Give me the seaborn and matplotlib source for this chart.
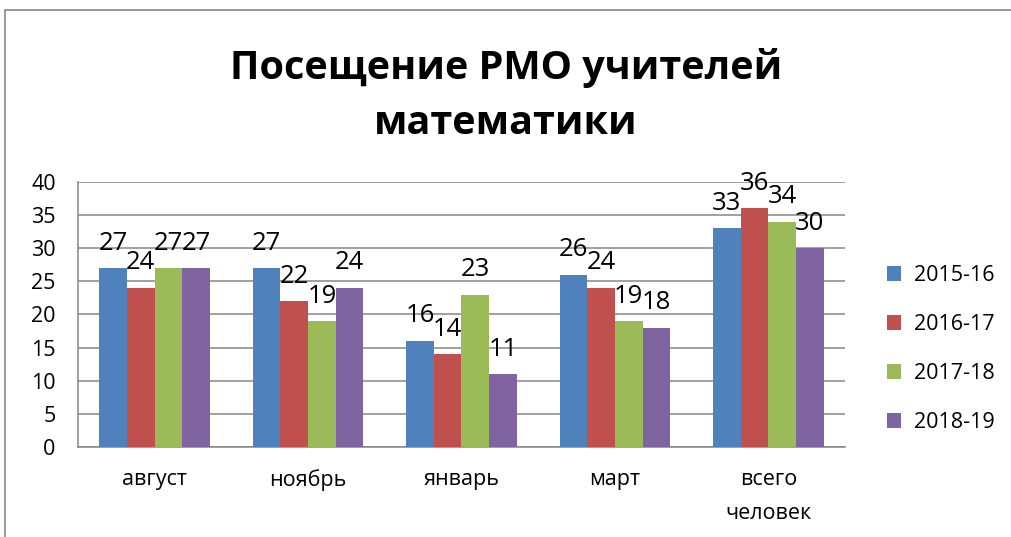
import matplotlib
matplotlib.use("Agg")
import matplotlib.pyplot as plt
import seaborn as sns
import pandas as pd
from matplotlib.lines import Line2D

categories = ["август", "ноябрь", "январь", "март", "всего\nчеловек"]
series_names = ["2015-16", "2016-17", "2017-18", "2018-19"]
v2015 = [27, 27, 16, 26, 33]
v2016 = [24, 22, 14, 24, 36]
v2017 = [27, 19, 23, 19, 34]
v2018 = [27, 24, 11, 18, 30]
colors = ["#4F81BD", "#C0504D", "#9BBB59", "#8064A2"]
title = "Посещение РМО учителей\nматематики"
yticks = [0, 5, 10, 15, 20, 25, 30, 35, 40]

rows = []
for name, vals in zip(series_names, [v2015, v2016, v2017, v2018]):
    for c, v in zip(categories, vals):
        rows.append({"cat": c, "series": name, "value": v})
df = pd.DataFrame(rows)

sns.set_style("white")
plt.rcParams["font.family"] = ["Open Sans", "DejaVu Sans"]
plt.rcParams["text.color"] = "black"
plt.rcParams["xtick.color"] = "black"
plt.rcParams["ytick.color"] = "black"

fig = plt.figure(figsize=(10.12, 5.37), dpi=100)
ax = fig.add_axes([0.077, 0.1676, 0.758, 0.4935])

sns.barplot(data=df, x="cat", y="value", hue="series", order=categories,
            hue_order=series_names, palette=colors, width=0.72,
            saturation=1, ax=ax, legend=True, linewidth=0, zorder=3)

for cont in ax.containers:
    ax.bar_label(cont, fontsize=18.5, padding=9, color="black")

ax.set_ylim(0, 40)
ax.set_yticks(yticks)
ax.set_xlim(-0.5, len(categories) - 0.5)
ax.yaxis.grid(True, color="#868686", linewidth=1.1, zorder=0)
ax.set_axisbelow(True)
for s in ["top", "right"]:
    ax.spines[s].set_visible(False)
for s in ["left", "bottom"]:
    ax.spines[s].set_color("#868686")
    ax.spines[s].set_linewidth(1.1)
ax.tick_params(axis="y", labelsize=15.5, length=1, pad=15, color="#868686",
               labelcolor="black")
ax.tick_params(axis="x", labelsize=15.5, length=0, pad=16, labelcolor="black")
for lab in ax.get_xticklabels():
    lab.set_linespacing(1.8)
    lab.set_va("top")
ax.set_xlabel("")
ax.set_ylabel("")

leg = ax.legend(loc="center left", bbox_to_anchor=(1.03, 0.37), frameon=False,
                fontsize=15.5, labelspacing=1.3, handlelength=0.65,
                handleheight=0.65, handletextpad=0.6)
for t in leg.get_texts():
    t.set_color("black")

fig.text(0.5, 0.822, title, ha="center", va="center", fontsize=28.5,
         fontweight="bold", linespacing=1.55, color="black")

# outer frame
fig.add_artist(Line2D([5 / 1012, 5 / 1012], [0, 1 - 10 / 537],
                      transform=fig.transFigure, color="#888888", linewidth=1.2))
fig.add_artist(Line2D([5 / 1012, 1], [1 - 10 / 537, 1 - 10 / 537],
                      transform=fig.transFigure, color="#888888", linewidth=1.2))

fig.savefig("out.png", dpi=100)
